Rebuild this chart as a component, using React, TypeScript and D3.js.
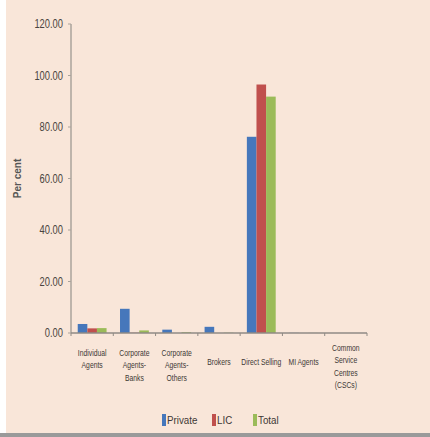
import React from "react";
import * as d3 from "d3";

const categories: string[][] = [
  ["Individual", "Agents"],
  ["Corporate", "Agents-", "Banks"],
  ["Corporate", "Agents-", "Others"],
  ["Brokers"],
  ["Direct Selling"],
  ["MI Agents"],
  ["Common", "Service", "Centres", "(CSCs)"],
];
const seriesNames = ["Private", "LIC", "Total"];
const privateVals = [3.5, 9.4, 1.3, 2.4, 76.2, 0.05, 0.0];
const licVals = [1.8, 0.1, 0.0, 0.0, 96.5, 0.0, 0.0];
const totalVals = [1.9, 1.0, 0.3, 0.1, 91.8, 0.02, 0.0];
const yTicks = [0, 20, 40, 60, 80, 100, 120];
const colors = ["#4677bb", "#c0504d", "#9bbb59"];

const W = 430;
const H = 437;
const left = 71;
const right = 367;
const top = 24;
const bottom = 333;
const font = "'Liberation Sans', Arial, sans-serif";

export default function App() {
  const series = [privateVals, licVals, totalVals];
  const x = d3
    .scaleBand<number>()
    .domain(d3.range(categories.length))
    .range([left, right])
    .padding(0);
  const inner = d3
    .scaleBand<number>()
    .domain([0, 1, 2])
    .range([0, x.bandwidth()])
    .paddingInner(0)
    .paddingOuter(0.7);
  const y = d3.scaleLinear().domain([0, 120]).range([bottom, top]);

  return (
    <svg
      width={W}
      height={H}
      style={{ position: "absolute", left: 0, top: 0, display: "block" }}
    >
      <rect x={0} y={0} width={W} height={H} fill="#ffffff" />
      <rect x={6} y={0} width={W - 6} height={H - 4} fill="#f9e6d9" />
      <rect x={0} y={H - 4} width={W} height={4} fill="#9a9a9a" />

      {/* y axis */}
      <line x1={left} x2={left} y1={top} y2={bottom} stroke="#aaa39b" strokeWidth={1.5} />
      {yTicks.map((t) => (
        <g key={t}>
          <line x1={left - 3} x2={left} y1={y(t)} y2={y(t)} stroke="#aaa39b" />
          <g transform={`translate(${left - 8},${y(t)}) scale(0.78,1)`}>
            <text
              dy="0.35em"
              textAnchor="end"
              fontFamily={font}
              fontSize={12}
              fill="#4a4440"
            >
              {t.toFixed(2)}
            </text>
          </g>
        </g>
      ))}
      <text
        transform={`translate(17,${(top + bottom) / 2}) rotate(-90)`}
        textAnchor="middle"
        dy="0.35em"
        fontFamily={font}
        fontSize={10}
        fontWeight="bold"
        fill="#555"
      >
        Per cent
      </text>

      {/* bars */}
      {categories.map((_, i) => (
        <g key={i} transform={`translate(${x(i)},0)`}>
          {series.map((vals, s) => (
            <rect
              key={s}
              x={inner(s)}
              y={y(vals[i])}
              width={inner.bandwidth()}
              height={bottom - y(vals[i])}
              fill={colors[s]}
            />
          ))}
        </g>
      ))}

      {/* x axis */}
      <line x1={left} x2={right} y1={bottom} y2={bottom} stroke="#8f8a84" strokeWidth={1.5} />
      {d3.range(categories.length + 1).map((i) => {
        const xx = i < categories.length ? (x(i) as number) : right;
        return <line key={i} x1={xx} x2={xx} y1={bottom} y2={bottom + 3} stroke="#8f8a84" />;
      })}
      {categories.map((lines, i) => {
        const cx = (x(i) as number) + x.bandwidth() / 2;
        const y0 = lines.length === 1 ? 365 : lines.length === 4 ? 351 : 356;
        return (
          <g key={i} transform={`translate(${cx},${y0}) scale(0.8,1)`}>
            <text textAnchor="middle" fontFamily={font} fontSize={8.5} fill="#3d3835">
              {lines.map((l, j) => (
                <tspan key={j} x={0} dy={j === 0 ? 0 : 12.5}>
                  {l}
                </tspan>
              ))}
            </text>
          </g>
        );
      })}

      {/* legend */}
      {seriesNames.map((n, s) => {
        const lx = [162, 212, 253][s];
        return (
          <g key={n}>
            <rect x={lx} y={414} width={4} height={12} fill={colors[s]} />
            <g transform={`translate(${lx + 5},${420}) scale(0.85,1)`}>
              <text dy="0.35em" fontFamily={font} fontSize={11.5} fill="#3d3835">
                {n}
              </text>
            </g>
          </g>
        );
      })}
    </svg>
  );
}
